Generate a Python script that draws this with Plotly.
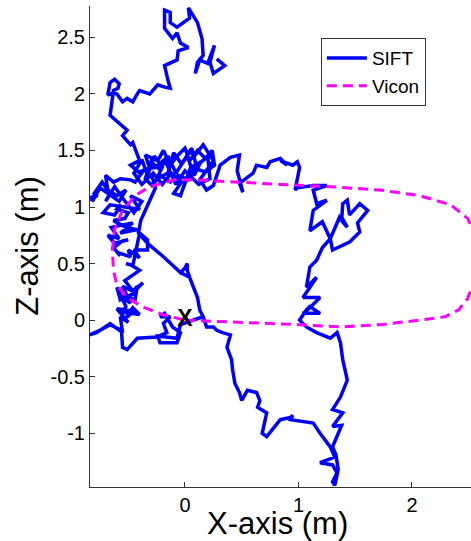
import plotly.graph_objects as go

# SIFT trajectory (X, Z in metres), in drawing order, by segment
sift_top = [
    (0.28, 2.31), (0.35, 2.25), (0.25, 2.18), (0.22, 2.28), (0.26, 2.43), (0.20, 2.27), (0.13, 2.30), (0.09, 2.18),
    (0.11, 2.28), (0.16, 2.34), (0.15, 2.49), (0.11, 2.63), (0.03, 2.76), (0.04, 2.67), (-0.07, 2.59), (-0.13, 2.63),
    (-0.13, 2.72), (-0.18, 2.74), (-0.18, 2.58), (-0.11, 2.49), (-0.07, 2.54), (-0.04, 2.45), (0.03, 2.41), (-0.06, 2.38),
    (-0.07, 2.30), (-0.18, 2.25), (-0.15, 2.12), (-0.13, 2.05), (-0.18, 2.06), (-0.24, 2.08), (-0.31, 2.00), (-0.40, 2.03),
    (-0.42, 2.00), (-0.46, 1.93), (-0.51, 1.96), (-0.55, 1.93), (-0.60, 2.00), (-0.63, 2.01), (-0.68, 1.99), (-0.66, 2.10),
    (-0.62, 2.13), (-0.58, 2.09), (-0.59, 2.05), (-0.63, 2.03), (-0.66, 1.81), (-0.55, 1.72), (-0.51, 1.68), (-0.55, 1.63),
    (-0.48, 1.55), (-0.46, 1.57), (-0.42, 1.47),
]
sift_cluster = [
    (-0.40, 1.41), (-0.48, 1.37), (-0.41, 1.31), (-0.31, 1.34), (-0.35, 1.46), (-0.24, 1.41), (-0.19, 1.50), (-0.13, 1.37),
    (-0.06, 1.46), (0.00, 1.52), (0.04, 1.41), (0.11, 1.50), (0.18, 1.43), (0.24, 1.50), (0.26, 1.37), (0.18, 1.31),
    (0.09, 1.34), (0.03, 1.24), (-0.06, 1.28), (-0.13, 1.22), (-0.22, 1.28), (-0.29, 1.19), (-0.35, 1.25), (-0.30, 1.40),
    (-0.22, 1.33), (-0.15, 1.45), (-0.08, 1.30), (0.02, 1.45), (0.08, 1.28), (0.14, 1.40), (0.05, 1.35), (-0.04, 1.10),
    (-0.10, 1.12), (-0.03, 1.22), (-0.12, 1.30), (-0.20, 1.20), (-0.28, 1.30), (-0.38, 1.20), (-0.45, 1.30), (-0.38, 1.42),
    (-0.33, 1.28), (-0.27, 1.45), (-0.20, 1.35), (-0.25, 1.25), (-0.15, 1.30), (-0.10, 1.48), (-0.03, 1.38), (0.06, 1.52),
    (0.10, 1.36), (0.20, 1.45), (0.22, 1.25), (0.12, 1.20), (0.00, 1.32), (-0.08, 1.20), (-0.18, 1.42), (-0.26, 1.35),
    (-0.36, 1.33), (-0.44, 1.22),
]
sift_left = [
    (-0.48, 1.24), (-0.57, 1.25), (-0.63, 1.22), (-0.70, 1.28), (-0.68, 1.15), (-0.60, 1.10), (-0.52, 1.15), (-0.58, 1.05),
    (-0.75, 1.17), (-0.81, 1.06), (-0.85, 1.08), (-0.77, 1.10), (-0.80, 1.12), (-0.73, 1.22), (-0.66, 1.12), (-0.70, 1.05),
    (-0.62, 1.18), (-0.55, 1.08), (-0.45, 0.95), (-0.38, 1.05), (-0.48, 1.10), (-0.40, 0.98), (-0.66, 1.02), (-0.72, 0.95),
    (-0.62, 0.93), (-0.56, 1.02), (-0.60, 0.98), (-0.50, 0.95), (-0.53, 0.90), (-0.63, 0.88), (-0.52, 0.82), (-0.42, 0.80),
    (-0.57, 0.77), (-0.46, 0.86), (-0.65, 0.82), (-0.58, 0.72), (-0.68, 0.75), (-0.62, 0.68), (-0.50, 0.71), (-0.55, 0.70),
    (-0.63, 0.64), (-0.57, 0.57), (-0.60, 0.60), (-0.48, 0.56), (-0.50, 0.62), (-0.40, 0.55), (-0.45, 0.62), (-0.33, 0.62),
    (-0.33, 0.71), (-0.40, 0.77), (-0.42, 0.66), (-0.46, 0.48), (-0.52, 0.50),
]
sift_lowleft = [
    (-0.48, 0.49), (-0.40, 0.44), (-0.53, 0.35), (-0.46, 0.26), (-0.37, 0.33), (-0.50, 0.20), (-0.42, 0.30), (-0.44, 0.18),
    (-0.58, 0.22), (-0.48, 0.15), (-0.55, 0.30), (-0.43, 0.24), (-0.57, 0.18), (-0.60, 0.29), (-0.52, 0.12), (-0.55, 0.07),
    (-0.40, 0.05), (-0.46, 0.11), (-0.52, 0.02), (-0.45, 0.08), (-0.60, 0.10), (-0.50, -0.02), (-0.57, 0.03), (-0.55, -0.11),
    (-0.66, -0.03), (-0.78, -0.11), (-0.84, -0.13), (-0.75, -0.09), (-0.66, -0.04), (-0.56, -0.09), (-0.55, -0.24),
    (-0.51, -0.26), (-0.42, -0.16), (-0.25, -0.15), (-0.16, -0.11), (-0.19, -0.03), (-0.13, 0.03), (-0.22, 0.03),
    (-0.18, 0.06), (-0.11, -0.06), (-0.04, -0.11), (-0.07, -0.20), (-0.22, -0.20), (-0.24, -0.14), (-0.07, -0.16),
    (-0.04, -0.04),
]
sift_stem = [
    (0.16, 0.03), (0.13, 0.09), (0.11, 0.20), (0.04, 0.38), (0.02, 0.44), (0.02, 0.50), (0.00, 0.46), (-0.04, 0.42),
    (-0.19, 0.56), (-0.33, 0.68), (-0.41, 0.77), (-0.39, 0.88), (-0.26, 1.17), (-0.30, 1.30), (-0.26, 1.17), (-0.39, 0.88),
    (-0.41, 0.77), (-0.33, 0.68), (-0.19, 0.56), (-0.04, 0.42), (0.04, 0.38), (0.11, 0.20), (0.13, 0.09), (0.16, 0.03),
    (0.19, -0.06), (0.25, -0.06),
]
sift_bottom = [
    (0.28, -0.09), (0.33, -0.11), (0.40, -0.13), (0.37, -0.24), (0.41, -0.35), (0.42, -0.44), (0.44, -0.56), (0.48, -0.64),
    (0.50, -0.71), (0.55, -0.62), (0.63, -0.64), (0.66, -0.71), (0.64, -0.77), (0.72, -0.82), (0.68, -1.00), (0.72, -1.03),
    (0.84, -0.88), (0.93, -0.86), (0.95, -0.84), (0.93, -0.88), (1.13, -0.91), (1.19, -1.00), (1.28, -1.12), (1.32, -1.21),
    (1.25, -1.24), (1.19, -1.26), (1.30, -1.28), (1.34, -1.35), (1.30, -1.43), (1.32, -1.46), (1.35, -1.32), (1.33, -1.19),
    (1.30, -1.12), (1.34, -1.03), (1.38, -0.93), (1.30, -0.94), (1.39, -0.82), (1.30, -0.79), (1.37, -0.68), (1.43, -0.53),
    (1.39, -0.35), (1.37, -0.20), (1.34, -0.11), (1.28, -0.16), (1.16, -0.11), (1.07, -0.06), (1.01, 0.00), (1.07, 0.09),
]
sift_right = [
    (1.10, 0.12), (1.19, 0.06), (1.04, 0.06), (1.10, 0.11), (1.19, 0.20), (1.04, 0.20), (1.10, 0.29), (1.16, 0.38),
    (1.07, 0.29), (1.10, 0.47), (1.16, 0.53), (1.21, 0.64), (1.28, 0.72), (1.30, 0.62), (1.45, 0.69), (1.54, 0.78),
    (1.52, 0.86), (1.61, 0.97), (1.54, 1.03), (1.45, 0.93), (1.43, 1.06), (1.39, 1.03), (1.38, 0.88), (1.43, 0.82),
    (1.37, 0.93), (1.28, 0.72), (1.21, 0.87), (1.10, 0.79), (1.13, 0.97), (1.25, 1.06), (1.16, 1.03), (1.13, 1.15),
    (1.25, 1.19), (1.13, 1.19), (0.99, 1.17), (0.97, 1.15), (1.01, 1.35), (0.99, 1.40), (0.95, 1.37), (0.84, 1.41),
]
sift_topright = [
    (0.90, 1.37), (0.84, 1.43), (0.75, 1.40), (0.72, 1.35), (0.63, 1.37), (0.60, 1.30), (0.48, 1.21), (0.51, 1.13),
    (0.46, 1.32), (0.48, 1.46), (0.40, 1.44), (0.31, 1.37), (0.25, 1.19), (0.19, 1.15), (0.13, 1.24), (0.25, 1.41),
    (0.16, 1.55), (0.09, 1.46), (0.00, 1.50),
]

# Vicon ground-truth loop
vicon_x = [0.00, 0.57, 1.01, 1.37, 1.72, 2.07, 2.29, 2.41, 2.49, 2.55, 2.58, 2.56, 2.49, 2.34, 2.07, 1.72, 1.28, 0.84,
           0.40, 0.09, -0.09, -0.31, -0.44, -0.56, -0.62, -0.64, -0.63, -0.60, -0.51, -0.38, -0.20, 0.00]
vicon_z = [0.00, -0.02, -0.04, -0.06, -0.04, 0.00, 0.03, 0.09, 0.19, 0.35, 0.57, 0.75, 0.90, 1.02, 1.10, 1.15, 1.18, 1.20,
           1.22, 1.24, 1.24, 1.18, 1.10, 0.95, 0.80, 0.62, 0.44, 0.31, 0.20, 0.12, 0.05, 0.00]

start_x = [0.0]
start_z = [0.0]

x_ticks = [0, 1, 2]
x_ticktext = ["0", "1", "2"]
y_ticks = [-1, -0.5, 0, 0.5, 1, 1.5, 2, 2.5]
y_ticktext = ["-1", "-0.5", "0", "0.5", "1", "1.5", "2", "2.5"]

sift_pts = sift_top + sift_cluster + sift_left + sift_lowleft + sift_stem + sift_bottom + sift_right + sift_topright
sift_x = [p[0] for p in sift_pts]
sift_z = [p[1] for p in sift_pts]

FONT = "Liberation Sans, Arial, sans-serif"

fig = go.Figure()
fig.add_trace(go.Scatter(x=sift_x, y=sift_z, mode="lines", name="SIFT",
                         line=dict(color="#0000ff", width=3.5)))
fig.add_trace(go.Scatter(x=vicon_x, y=vicon_z, mode="lines", name="Vicon",
                         line=dict(color="#ff00ff", width=3, dash="10px,6px")))
fig.add_trace(go.Scatter(x=start_x, y=start_z, mode="text", text=["<b>X</b>"], showlegend=False,
                         textfont=dict(family=FONT, size=23, color="black"),
                         textposition="middle center"))

fig.update_layout(
    width=471, height=541,
    margin=dict(l=90, r=0, t=6, b=54),
    paper_bgcolor="white", plot_bgcolor="white",
    font=dict(family=FONT, size=20, color="black"),
    showlegend=True,
    legend=dict(x=0.606, y=0.933, xanchor="left", yanchor="top",
                bgcolor="white", bordercolor="#333", borderwidth=1,
                font=dict(family=FONT, size=19, color="black"),
                itemwidth=40, tracegroupgap=0),
    xaxis=dict(range=[-0.837, 2.52], tickvals=x_ticks, ticktext=x_ticktext,
               ticks="inside", ticklen=5, tickcolor="#333", showline=True, linecolor="#333",
               linewidth=1, showgrid=False, zeroline=False, mirror=False,
               tickfont=dict(family=FONT, size=20, color="black")),
    yaxis=dict(range=[-1.475, 2.777], tickvals=y_ticks, ticktext=y_ticktext,
               ticks="inside", ticklen=5, tickcolor="#333", showline=True, linecolor="#333",
               linewidth=1, showgrid=False, zeroline=False, mirror=False,
               tickfont=dict(family=FONT, size=20, color="black")),
    annotations=[
        dict(text="X-axis (m)", xref="paper", yref="paper", x=0.492, y=-0.075,
             xanchor="center", yanchor="middle", showarrow=False,
             font=dict(family=FONT, size=31, color="black")),
        dict(text="Z-axis (m)", xref="paper", yref="paper", x=-0.165, y=0.5,
             xanchor="center", yanchor="middle", showarrow=False, textangle=-90,
             font=dict(family=FONT, size=31, color="black")),
    ],
)

fig.write_html("out.html")
